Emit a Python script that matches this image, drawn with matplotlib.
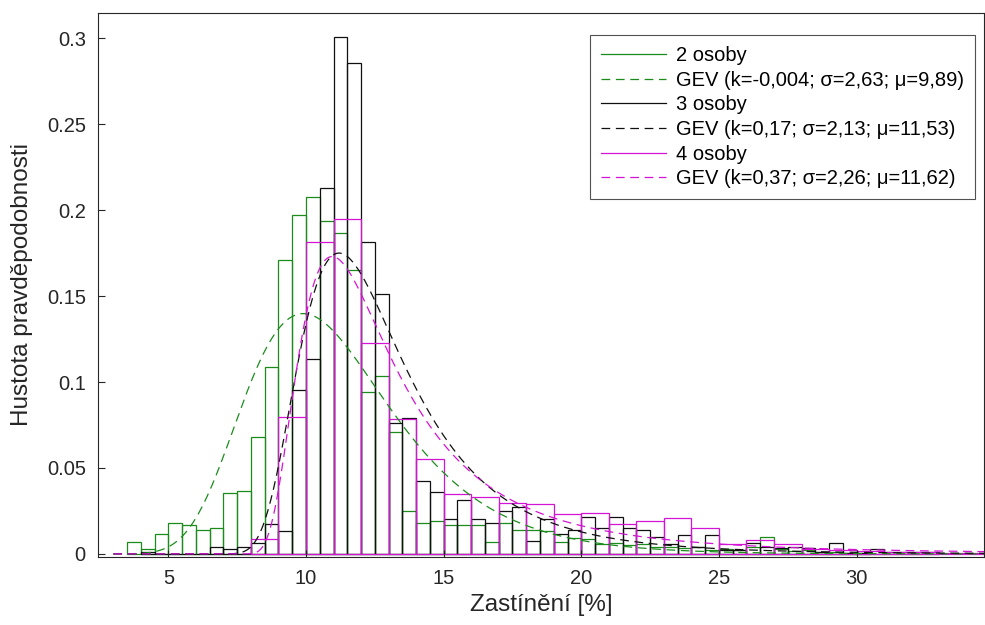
import numpy as np
import matplotlib
matplotlib.use("Agg")
import matplotlib.pyplot as plt

plt.rcParams['font.family'] = ['Liberation Sans', 'DejaVu Sans']

# ---- data ----
green_start, green_width = 3.5, 0.5
green_heights = [0.0068, 0.0027, 0.0118, 0.0178, 0.0169, 0.0138, 0.0149, 0.0357, 0.0366,
                 0.0683, 0.1086, 0.171, 0.197, 0.208, 0.194, 0.187, 0.165, 0.094, 0.1035,
                 0.0712, 0.025, 0.0178, 0.0192, 0.0169, 0.0169, 0.0169, 0.0068, 0.018,
                 0.014, 0.014, 0.0135, 0.0068, 0.009, 0.0085, 0.006, 0.0062, 0.005, 0.0055,
                 0.004, 0.004, 0.0035, 0.004, 0.0025, 0.003, 0.002, 0.004, 0.0099, 0.003,
                 0.0015, 0.002, 0.001, 0.001, 0.0005, 0.0005]

black_start, black_width = 4.0, 0.5
black_heights = [0.0013, 0, 0, 0, 0, 0.0043, 0.0027, 0.0043, 0.0065, 0.0175, 0.0133,
                 0.0956, 0.1137, 0.213, 0.301, 0.286, 0.1817, 0.151, 0.0764, 0.0793, 0.0425,
                 0.0359, 0.0206, 0.0314, 0.0206, 0.0178, 0.025, 0.0275, 0.0078, 0.0206,
                 0.0114, 0.014, 0.0217, 0.0149, 0.0217, 0.0149, 0.014, 0.0098, 0.0056, 0.011,
                 0.0043, 0.011, 0.0023, 0.0023, 0.0066, 0.0043, 0.0033, 0.0043, 0.0035,
                 0.0013, 0.0062, 0.0008, 0.0006, 0.0029, 0.001, 0.001, 0.001, 0.001]

magenta_start, magenta_width = 8.0, 1.0
magenta_heights = [0.0088, 0.0799, 0.1817, 0.1949, 0.1228, 0.0783, 0.0553, 0.0347, 0.0333,
                   0.0298, 0.0289, 0.0231, 0.024, 0.0173, 0.0192, 0.0209, 0.015, 0.0058,
                   0.0083, 0.0058, 0.003, 0.002, 0.0015, 0.001, 0.0012, 0.0005, 0.0003]

# GEV fit parameters shown in the legend (k, sigma, mu)
gev_green = (-0.004, 2.63, 9.89)
gev_black = (0.17, 2.13, 11.53)
gev_magenta = (0.37, 2.26, 11.62)

labels = ["2 osoby", "GEV (k=-0,004; σ=2,63; μ=9,89)",
          "3 osoby", "GEV (k=0,17; σ=2,13; μ=11,53)",
          "4 osoby", "GEV (k=0,37; σ=2,26; μ=11,62)"]

xticks = [5, 10, 15, 20, 25, 30]
yticks = [0, 0.05, 0.1, 0.15, 0.2, 0.25, 0.3]
ytick_labels = ["0", "0.05", "0.1", "0.15", "0.2", "0.25", "0.3"]

GREEN = '#1b8c1b'
BLACK = '#101010'
MAGENTA = '#d414d4'


def gevpdf(x, k, s, m):
    z = (x - m) / s
    t = 1 + k * z
    out = np.zeros_like(x)
    ok = t > 0
    tt = t[ok] ** (-1.0 / k)
    out[ok] = (1.0 / s) * tt ** (k + 1) * np.exp(-tt)
    return out


fig = plt.figure(figsize=(9.85, 6.25), dpi=100)
ax = fig.add_axes([0.0998, 0.1088, 0.8992, 0.8709])

xs = np.linspace(3.0, 35.0, 600)
handles = []
for start, width, heights, par, col in [
        (green_start, green_width, green_heights, gev_green, GREEN),
        (black_start, black_width, black_heights, gev_black, BLACK),
        (magenta_start, magenta_width, magenta_heights, gev_magenta, MAGENTA)]:
    h = np.array(heights)
    lefts = start + width * np.arange(len(h))
    ax.bar(lefts, h, width=width, align='edge', fill=False, edgecolor=col, linewidth=0.9)
    hl, = ax.plot([], [], color=col, lw=0.9)
    hd, = ax.plot(xs, gevpdf(xs, *par), color=col, lw=0.9, ls=(0, (7, 4.5)))
    handles += [hl, hd]

ax.set_xlim(2.455, 34.63)
ax.set_ylim(-0.0018, 0.315)
ax.set_xticks(xticks)
ax.set_yticks(yticks)
ax.set_yticklabels(ytick_labels)
ax.tick_params(direction='in', length=5, width=0.8, colors='#262626', labelsize=14.5, pad=9)
for sp in ax.spines.values():
    sp.set_color('#262626')
    sp.set_linewidth(0.8)
ax.set_xlabel("Zastínění [%]", fontsize=17.5, color='#262626', labelpad=4)
ax.set_ylabel("Hustota pravděpodobnosti", fontsize=17.5, color='#262626', labelpad=10)

leg = ax.legend(handles, labels, loc='upper right', bbox_to_anchor=(0.9898, 0.959),
                fontsize=14.5, frameon=True, fancybox=False, handlelength=3.2,
                handletextpad=0.5, borderpad=0.55, labelspacing=0.28, borderaxespad=0)
leg.get_frame().set_edgecolor('#262626')
leg.get_frame().set_linewidth(0.8)

fig.savefig("out.png", dpi=100)
